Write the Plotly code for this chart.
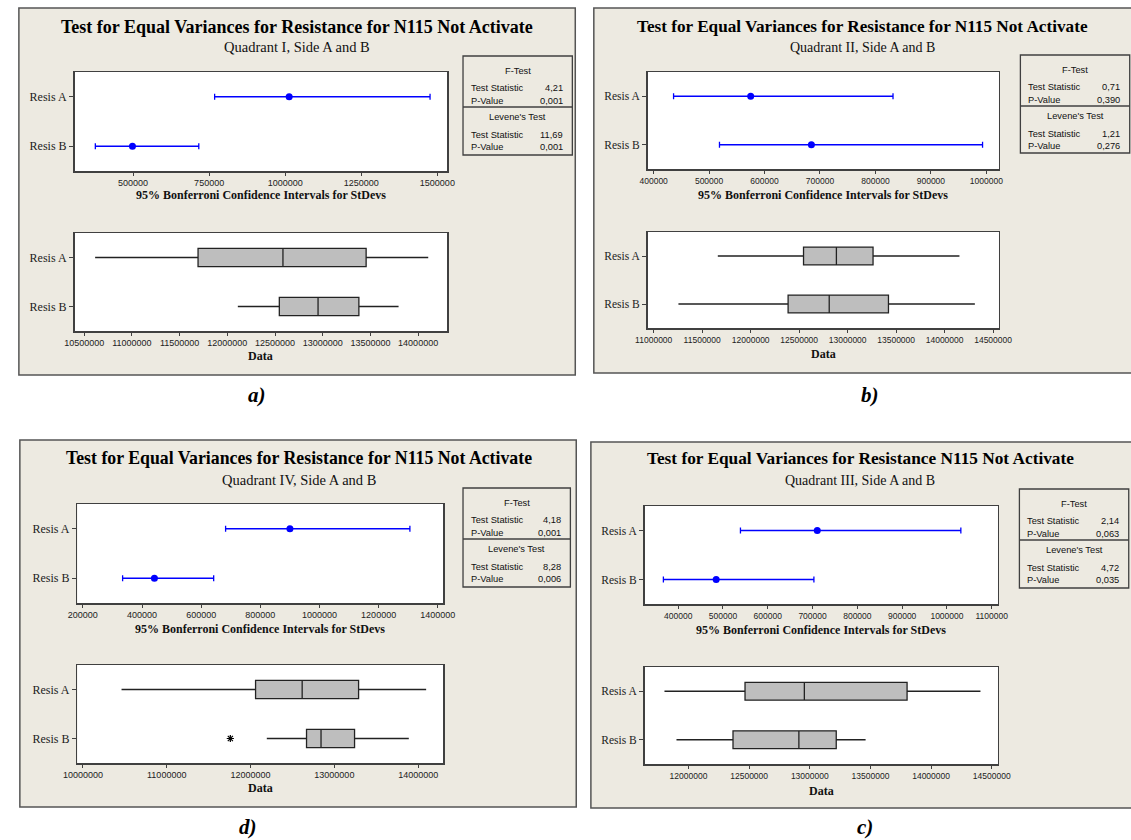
import plotly.graph_objects as go

W, H = 1131, 840

# ---------------- data ----------------
categories = ["Resis A", "Resis B"]

# a) Quadrant I
a_sd_low = [768000, 376000]
a_sd_est = [1013000, 498000]
a_sd_high = [1476000, 716000]
a_min = [10614000, 12110000]
a_q1 = [11693000, 12545000]
a_med = [12583000, 12951000]
a_q3 = [13455000, 13379000]
a_max = [14106000, 13795000]
a_stats = ["4,21", "0,001", "11,69", "0,001"]
a_sd_ticks = [500000, 750000, 1000000, 1250000, 1500000]
a_data_ticks = [10500000, 11000000, 11500000, 12000000, 12500000, 13000000, 13500000, 14000000]

# b) Quadrant II
b_sd_low = [435900, 518700]
b_sd_est = [575000, 684500]
b_sd_high = [831700, 993200]
b_min = [11661000, 11255000]
b_q1 = [12545000, 12386000]
b_med = [12884000, 12810000]
b_q3 = [13262000, 13421000]
b_max = [14153000, 14312000]
b_stats = ["0,71", "0,390", "1,21", "0,276"]
b_sd_ticks = [400000, 500000, 600000, 700000, 800000, 900000, 1000000]
b_data_ticks = [11000000, 11500000, 12000000, 12500000, 13000000, 13500000, 14000000, 14500000]

# d) Quadrant IV
d_sd_low = [682600, 334400]
d_sd_est = [900100, 441900]
d_sd_high = [1305700, 642300]
d_min = [10461000, 12194000]
d_q1 = [12060000, 12668000]
d_med = [12616000, 12841000]
d_q3 = [13289000, 13241000]
d_max = [14095000, 13888000]
d_outlier_x = [11759000]
d_outlier_y = ["Resis B"]
d_stats = ["4,18", "0,001", "8,28", "0,006"]
d_sd_ticks = [200000, 400000, 600000, 800000, 1000000, 1200000, 1400000]
d_data_ticks = [10000000, 11000000, 12000000, 13000000, 14000000]

# c) Quadrant III
c_sd_low = [539000, 367000]
c_sd_est = [710500, 484800]
c_sd_high = [1031000, 703000]
c_min = [11802000, 11901000]
c_q1 = [12466000, 12367000]
c_med = [12955000, 12910000]
c_q3 = [13802000, 13218000]
c_max = [14407000, 13460000]
c_stats = ["2,14", "0,063", "4,72", "0,035"]
c_sd_ticks = [400000, 500000, 600000, 700000, 800000, 900000, 1000000, 1100000]
c_data_ticks = [12000000, 12500000, 13000000, 13500000, 14000000, 14500000]

titles = [
    "Test for Equal Variances for Resistance for N115 Not Activate",
    "Test for Equal Variances for Resistance for N115 Not Activate",
    "Test for Equal Variances for Resistance for N115 Not Activate",
    "Test for Equal Variances for Resistance N115 Not Activate",
]
subtitles = ["Quadrant I, Side A and B", "Quadrant II, Side A and B",
             "Quadrant IV, Side A and B", "Quadrant III, Side A and B"]
panel_labels = ["a)", "b)", "d)", "c)"]
stat_labels = ["Test Statistic", "P-Value", "Test Statistic", "P-Value"]

# ---------------- layout geometry (pixels) ----------------
panels = [
    dict(rect=(5, 8, 575, 375), tx=290, ty=27, sy=47, tsize=18, ssize=14.5,
         up=(62, 72, 444, 171), lo=(62, 233, 444, 331), table=(460, 56, 572, 155),
         sdt_y=195, dt_y=356, lab=(249, 395), tick=9, ytick=12,
         uprange=[307600, 1533000], lorange=[10398000, 14307000]),
    dict(rect=(594, 8, 1150, 373), tx=869, ty=27, sy=47, tsize=17.2, ssize=14,
         up=(649, 72, 1009, 169), lo=(649, 232, 1009, 328), table=(1031, 55, 1143, 153),
         sdt_y=195, dt_y=354, lab=(877, 395), tick=8.5, ytick=11.5,
         uprange=[388900, 1022700], lorange=[10936000, 14560000]),
    dict(rect=(6, 440, 576, 807), tx=292, ty=458, sy=480, tsize=17.8, ssize=14.5,
         up=(65, 504, 440, 603), lo=(65, 665, 440, 763), table=(460, 488, 570, 587),
         sdt_y=629, dt_y=788, lab=(240, 827), tick=9, ytick=12,
         uprange=[181700, 1419300], lorange=[9935000, 14302000]),
    dict(rect=(591, 442, 1150, 808), tx=867, ty=459, sy=481, tsize=17.3, ssize=14,
         up=(646, 506, 1008, 604), lo=(646, 667, 1008, 764), table=(1030, 489, 1142, 588),
         sdt_y=630, dt_y=791, lab=(872, 827), tick=8.5, ytick=11.5,
         uprange=[325000, 1113800], lorange=[11638000, 14551000]),
]

sd_data = [(a_sd_low, a_sd_est, a_sd_high), (b_sd_low, b_sd_est, b_sd_high),
           (d_sd_low, d_sd_est, d_sd_high), (c_sd_low, c_sd_est, c_sd_high)]
box_data = [(a_min, a_q1, a_med, a_q3, a_max), (b_min, b_q1, b_med, b_q3, b_max),
            (d_min, d_q1, d_med, d_q3, d_max), (c_min, c_q1, c_med, c_q3, c_max)]
stats = [a_stats, b_stats, d_stats, c_stats]
sd_ticks = [a_sd_ticks, b_sd_ticks, d_sd_ticks, c_sd_ticks]
data_ticks = [a_data_ticks, b_data_ticks, d_data_ticks, c_data_ticks]


def px(x):
    return x / W


def py(y):
    return 1 - y / H


SERIF = "Liberation Serif, Times New Roman, serif"
SANS = "Liberation Sans, Arial, sans-serif"
BG = "#EDEAE1"
FRAME = "#404040"
BLUE = "#0000FF"

fig = go.Figure()
shapes = []
annotations = []
layout_axes = {}

for i, p in enumerate(panels):
    x0, y0, x1, y1 = p["rect"]
    shapes.append(dict(type="rect", xref="paper", yref="paper", layer="below",
                       x0=px(x0), x1=px(x1), y0=py(y1), y1=py(y0),
                       fillcolor=BG, line=dict(color="#555555", width=1.5)))
    for key in ("up", "lo"):
        a0, b0, a1, b1 = p[key]
        shapes.append(dict(type="rect", xref="paper", yref="paper", layer="below",
                           x0=px(a0), x1=px(a1), y0=py(b1), y1=py(b0),
                           fillcolor="white", line=dict(width=0)))
    # table
    tl, tt, tr, tb = p["table"]
    shapes.append(dict(type="rect", xref="paper", yref="paper", layer="above",
                       x0=px(tl), x1=px(tr), y0=py(tb), y1=py(tt),
                       fillcolor="rgba(0,0,0,0)", line=dict(color=FRAME, width=1.3)))
    shapes.append(dict(type="line", xref="paper", yref="paper", layer="above",
                       x0=px(tl), x1=px(tr), y0=py(tt + 51), y1=py(tt + 51),
                       line=dict(color=FRAME, width=1.3)))
    tf = dict(family=SANS, size=9.3, color="#111111")
    cx = (tl + tr) / 2
    annotations.append(dict(text="F-Test", x=px(cx), y=py(tt + 15), xref="paper", yref="paper",
                            showarrow=False, xanchor="center", yanchor="middle", font=tf))
    annotations.append(dict(text="Levene's Test", x=px(cx), y=py(tt + 61), xref="paper", yref="paper",
                            showarrow=False, xanchor="center", yanchor="middle", font=tf))
    for k, dy in enumerate([32, 45, 79, 91]):
        annotations.append(dict(text=stat_labels[k], x=px(tl + 6), y=py(tt + dy), xref="paper", yref="paper",
                                showarrow=False, xanchor="left", yanchor="middle", font=tf))
        annotations.append(dict(text=stats[i][k], x=px(tr - 8), y=py(tt + dy), xref="paper", yref="paper",
                                showarrow=False, xanchor="right", yanchor="middle", font=tf))
    # titles
    annotations.append(dict(text="<b>" + titles[i] + "</b>", x=px(p["tx"]), y=py(p["ty"]),
                            xref="paper", yref="paper", showarrow=False, xanchor="center", yanchor="middle",
                            font=dict(family=SERIF, size=p["tsize"], color="black")))
    annotations.append(dict(text=subtitles[i], x=px(p["tx"]), y=py(p["sy"]),
                            xref="paper", yref="paper", showarrow=False, xanchor="center", yanchor="middle",
                            font=dict(family=SERIF, size=p["ssize"], color="#111111")))
    ua0, ub0, ua1, ub1 = p["up"]
    la0, lb0, la1, lb1 = p["lo"]
    annotations.append(dict(text="<b>95% Bonferroni Confidence Intervals for StDevs</b>",
                            x=px((ua0 + ua1) / 2), y=py(p["sdt_y"]), xref="paper", yref="paper",
                            showarrow=False, xanchor="center", yanchor="middle",
                            font=dict(family=SERIF, size=12, color="#111111")))
    annotations.append(dict(text="<b>Data</b>", x=px((la0 + la1) / 2), y=py(p["dt_y"]),
                            xref="paper", yref="paper", showarrow=False, xanchor="center", yanchor="middle",
                            font=dict(family=SERIF, size=12, color="#111111")))
    annotations.append(dict(text="<b><i>" + panel_labels[i] + "</i></b>", x=px(p["lab"][0]), y=py(p["lab"][1]),
                            xref="paper", yref="paper", showarrow=False, xanchor="center", yanchor="middle",
                            font=dict(family=SERIF, size=21, color="black")))

    # axes
    nu = 2 * i + 1
    nl = 2 * i + 2
    for n, dom, rng, ticks in ((nu, p["up"], p["uprange"], sd_ticks[i]),
                               (nl, p["lo"], p["lorange"], data_ticks[i])):
        sx = "" if n == 1 else str(n)
        d0, e0, d1, e1 = dom
        layout_axes["xaxis" + sx] = dict(
            domain=[px(d0), px(d1)], range=rng, anchor="y" + sx,
            showline=True, mirror=True, linecolor=FRAME, linewidth=1.5,
            showgrid=False, zeroline=False, ticks="outside", ticklen=3, tickwidth=1,
            tickcolor=FRAME, tickvals=ticks, ticktext=[str(t) for t in ticks],
            tickfont=dict(family=SANS, size=p["tick"], color="#222222"), fixedrange=True)
        layout_axes["yaxis" + sx] = dict(
            domain=[py(e1), py(e0)], anchor="x" + sx, type="category",
            categoryorder="array", categoryarray=["Resis B", "Resis A"], range=[-0.5, 1.5],
            showline=True, mirror=True, linecolor=FRAME, linewidth=1.5,
            showgrid=False, zeroline=False, ticks="outside", ticklen=4, tickwidth=1,
            tickcolor=FRAME, tickfont=dict(family=SERIF, size=p["ytick"], color="#222222"),
            fixedrange=True)

    # traces
    lo_, est, hi = sd_data[i]
    su = "" if nu == 1 else str(nu)
    fig.add_trace(go.Scatter(
        x=est, y=categories, mode="markers", xaxis="x" + su, yaxis="y" + su,
        marker=dict(color=BLUE, size=7),
        error_x=dict(type="data", symmetric=False,
                     array=[h - e for h, e in zip(hi, est)],
                     arrayminus=[e - l for e, l in zip(est, lo_)],
                     color=BLUE, thickness=1.3, width=3),
        showlegend=False, hoverinfo="skip"))
    mn, q1, md, q3, mx = box_data[i]
    sl = str(nl)
    fig.add_trace(go.Box(
        y=categories, q1=q1, median=md, q3=q3, lowerfence=mn, upperfence=mx,
        orientation="h", xaxis="x" + sl, yaxis="y" + sl, width=0.37,
        fillcolor="#BEBEBE", line=dict(color="#222222", width=1.3), whiskerwidth=0,
        boxpoints=False, showlegend=False, hoverinfo="skip"))
    if i == 2:
        fig.add_trace(go.Scatter(
            x=d_outlier_x, y=d_outlier_y, mode="markers", xaxis="x" + sl, yaxis="y" + sl,
            marker=dict(symbol="asterisk-open", size=6, color="black", line=dict(color="black", width=1.2)),
            showlegend=False, hoverinfo="skip"))

fig.update_layout(
    width=W, height=H, margin=dict(l=0, r=0, t=0, b=0),
    paper_bgcolor="white", plot_bgcolor="rgba(0,0,0,0)",
    shapes=shapes, annotations=annotations, showlegend=False, hovermode=False,
    **layout_axes)

fig.write_html("out.html", config={"displayModeBar": False, "staticPlot": True},
               post_script="document.body.style.margin='0px';")
